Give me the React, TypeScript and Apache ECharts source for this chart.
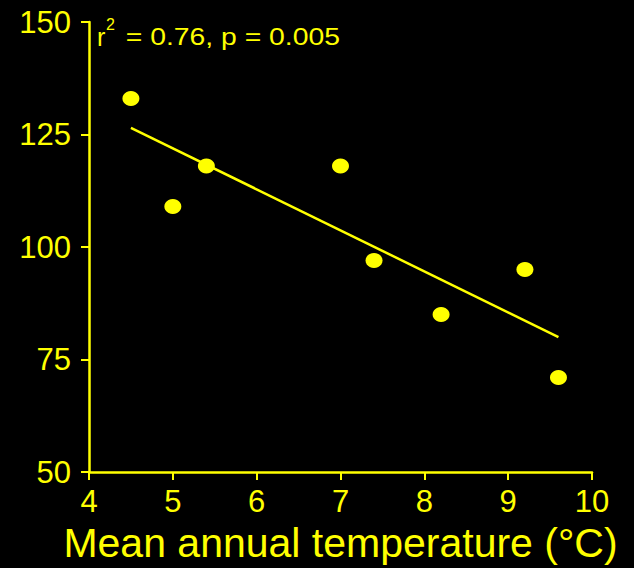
import React, { useEffect, useRef } from "react";
import * as echarts from "echarts";

const temperature = [4.5, 5.0, 5.4, 7.0, 7.4, 8.2, 9.2, 9.6];
const values = [133, 109, 118, 118, 97, 85, 95, 71];
const fitX = [4.5, 9.6];
const fitY = [126.5, 80];
const xTicks = [4, 5, 6, 7, 8, 9, 10];
const yTicks = [50, 75, 100, 125, 150];
const xTitle = "Mean annual temperature (°C)";
const statText = " = 0.76, p = 0.005";

const YEL = "#ffff00";
const FONT = "Liberation Sans, Arial, sans-serif";

export default function App() {
  const ref = useRef<HTMLDivElement>(null);
  useEffect(() => {
    document.body.style.margin = "0";
    document.body.style.background = "#000";
    const chart = echarts.init(ref.current!, null, { renderer: "svg" });
    const points = temperature.map((t, i) => [t, values[i]]);
    const fit = fitX.map((t, i) => [t, fitY[i]]);
    chart.setOption({
      animation: false,
      backgroundColor: "#000",
      grid: { left: 89, right: 42, top: 22, bottom: 94 },
      xAxis: {
        type: "value",
        min: xTicks[0],
        max: xTicks[xTicks.length - 1],
        interval: 1,
        name: xTitle,
        nameLocation: "middle",
        nameGap: 49,
        nameTextStyle: { color: YEL, fontSize: 41, fontFamily: FONT },
        axisLine: { onZero: false, lineStyle: { color: YEL, width: 2.5 } },
        axisTick: { show: true, length: 8, lineStyle: { color: YEL, width: 2 } },
        axisLabel: { color: YEL, fontSize: 31, fontFamily: FONT, margin: 14 },
        splitLine: { show: false },
      },
      yAxis: {
        type: "value",
        min: yTicks[0],
        max: yTicks[yTicks.length - 1],
        interval: 25,
        axisLine: { show: true, onZero: false, lineStyle: { color: YEL, width: 2.5 } },
        axisTick: { show: true, length: 8, lineStyle: { color: YEL, width: 2 } },
        axisLabel: { color: YEL, fontSize: 31, fontFamily: FONT, margin: 18 },
        splitLine: { show: false },
      },
      graphic: [
        {
          type: "text",
          x: 97,
          y: 37,
          style: { text: "r", fill: YEL, fontSize: 25, fontFamily: FONT, verticalAlign: "middle", align: "left" },
        },
        {
          type: "text",
          x: 106,
          y: 24,
          style: { text: "2", fill: YEL, fontSize: 16, fontFamily: FONT, verticalAlign: "middle", align: "left" },
        },
        {
          type: "text",
          x: 118,
          y: 37,
          scaleX: 1.18,
          style: { text: statText, fill: YEL, fontSize: 24, fontFamily: FONT, verticalAlign: "middle", align: "left" },
        },
      ],
      series: [
        {
          type: "line",
          data: fit,
          showSymbol: false,
          lineStyle: { color: YEL, width: 2.5 },
          silent: true,
        },
        {
          type: "scatter",
          data: points,
          symbol: "circle",
          symbolSize: [17, 15],
          itemStyle: { color: YEL, opacity: 1 },
        },
      ],
    });
    return () => chart.dispose();
  }, []);
  return <div ref={ref} style={{ width: 634, height: 568, background: "#000" }} />;
}
